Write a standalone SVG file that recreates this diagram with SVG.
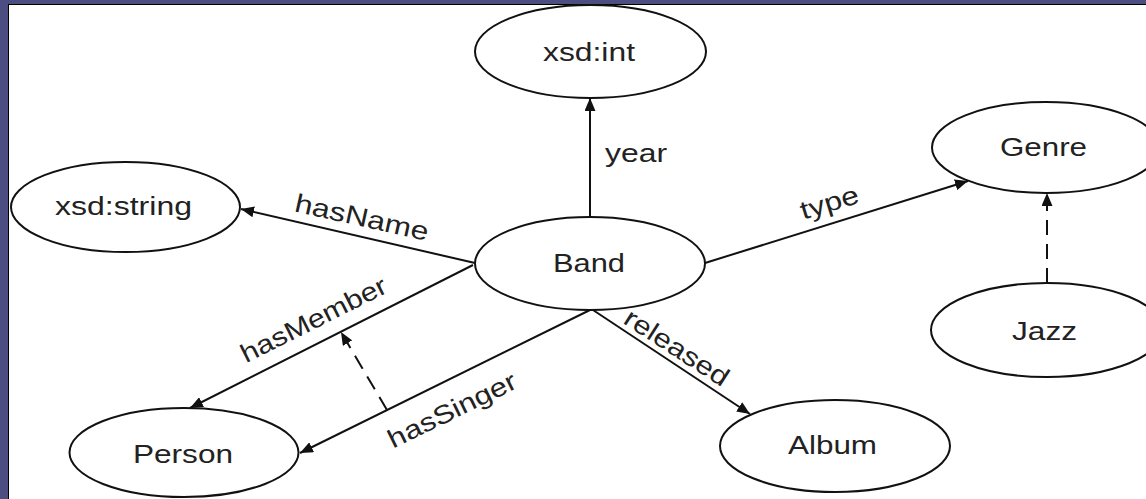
<svg xmlns="http://www.w3.org/2000/svg" width="1146" height="499" viewBox="0 0 1146 499">
  <style>
    .node ellipse { fill: #ffffff; stroke: #111111; stroke-width: 2; }
    text { font-family: "Liberation Sans", Arial, sans-serif; font-size: 26px; fill: #222222; }
    .ntext { text-anchor: middle; }
    .edge { stroke: #111111; stroke-width: 2; fill: none; }
    .dash { stroke-dasharray: 15 9; }
    .elabel { text-anchor: middle; }
  </style>
  <defs>
    <marker id="arrow" markerUnits="userSpaceOnUse" markerWidth="13" markerHeight="11" refX="13" refY="5.5" orient="auto">
      <path d="M0,0 L13,5.5 L0,11 Z" fill="#111111"/>
    </marker>
  </defs>

  <!-- slide background and canvas -->
  <rect x="0" y="0" width="1146" height="499" fill="#4c4d80"/>
  <rect x="8.5" y="4.5" width="1145" height="500" fill="#ffffff" stroke="#000000" stroke-width="1"/>

  <!-- connectors -->
  <g id="connectors">
    <line id="e-year" class="edge" x1="590" y1="217" x2="590" y2="98" marker-end="url(#arrow)"/>
    <line id="e-hasName" class="edge" x1="475" y1="263" x2="241" y2="209" marker-end="url(#arrow)"/>
    <line id="e-hasMember" class="edge" x1="473" y1="265" x2="190" y2="408" marker-end="url(#arrow)"/>
    <line id="e-hasSinger" class="edge" x1="590" y1="310" x2="300" y2="453" marker-end="url(#arrow)"/>
    <line id="e-released" class="edge" x1="593" y1="310" x2="750" y2="414" marker-end="url(#arrow)"/>
    <line id="e-type" class="edge" x1="705" y1="263" x2="968" y2="181" marker-end="url(#arrow)"/>
    <line id="e-jazz-genre" class="edge dash" x1="1047" y1="283" x2="1047" y2="193" marker-end="url(#arrow)"/>
    <line id="e-sub-property" class="edge dash" x1="387" y1="410" x2="341" y2="332" marker-end="url(#arrow)"/>

    <text class="elabel" x="636" y="162" textLength="62" lengthAdjust="spacingAndGlyphs">year</text>
    <text class="elabel" x="360" y="226" textLength="136" lengthAdjust="spacingAndGlyphs" transform="rotate(12.5 360 226)">hasName</text>
    <text class="elabel" x="317.5" y="327.5" textLength="160" lengthAdjust="spacingAndGlyphs" transform="rotate(-26.5 317.5 327.5)">hasMember</text>
    <text class="elabel" x="456" y="418" textLength="140" lengthAdjust="spacingAndGlyphs" transform="rotate(-26 456 418)">hasSinger</text>
    <text class="elabel" x="672" y="355" textLength="119" lengthAdjust="spacingAndGlyphs" transform="rotate(33 672 355)">released</text>
    <text class="elabel" x="832" y="211" textLength="60" lengthAdjust="spacingAndGlyphs" transform="rotate(-17 832 211)">type</text>
  </g>

  <!-- nodes -->
  <g id="node-xsd-int" class="node">
    <ellipse cx="590.5" cy="51.5" rx="115.5" ry="46.5"/>
    <text class="ntext" x="589" y="61" textLength="92" lengthAdjust="spacingAndGlyphs">xsd:int</text>
  </g>
  <g id="node-xsd-string" class="node">
    <ellipse cx="125.5" cy="207" rx="114.5" ry="45"/>
    <text class="ntext" x="123.5" y="215" textLength="137" lengthAdjust="spacingAndGlyphs">xsd:string</text>
  </g>
  <g id="node-genre" class="node">
    <ellipse cx="1046" cy="147.5" rx="114" ry="45.5"/>
    <text class="ntext" x="1043.5" y="156" textLength="87" lengthAdjust="spacingAndGlyphs">Genre</text>
  </g>
  <g id="node-band" class="node">
    <ellipse cx="590" cy="263.5" rx="115" ry="46.5"/>
    <text class="ntext" x="589" y="272" textLength="72" lengthAdjust="spacingAndGlyphs">Band</text>
  </g>
  <g id="node-jazz" class="node">
    <ellipse cx="1047" cy="330" rx="116" ry="47"/>
    <text class="ntext" x="1044.5" y="340" textLength="65" lengthAdjust="spacingAndGlyphs">Jazz</text>
  </g>
  <g id="node-album" class="node">
    <ellipse cx="835" cy="446" rx="115" ry="46"/>
    <text class="ntext" x="832.5" y="454" textLength="89" lengthAdjust="spacingAndGlyphs">Album</text>
  </g>
  <g id="node-person" class="node">
    <ellipse cx="184" cy="452.5" rx="114.5" ry="44.5"/>
    <text class="ntext" x="183" y="463" textLength="100" lengthAdjust="spacingAndGlyphs">Person</text>
  </g>
</svg>
